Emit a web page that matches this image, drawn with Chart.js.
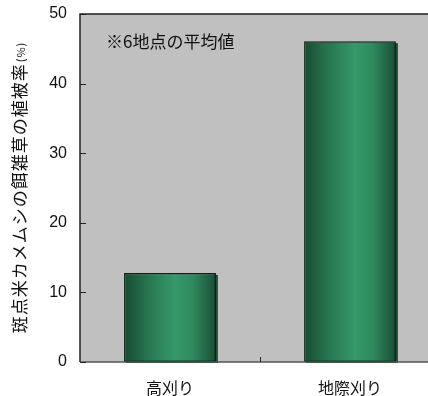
<!DOCTYPE html>
<html lang="ja">
<head>
<meta charset="utf-8">
<script src="https://cdn.jsdelivr.net/npm/chart.js@4/dist/chart.umd.min.js"></script>
<style>
  html, body { margin: 0; padding: 0; background: #ffffff; overflow: hidden; }
  #wrap { width: 428px; height: 396px; overflow: hidden; }
  canvas { display: block; }
</style>
</head>
<body>
<div id="wrap"><canvas id="c" width="440" height="396"></canvas></div>
<script>
// Mowing method vs. ground cover of weeds eaten by rice stink bugs
const categories = ['高刈り', '地際刈り'];
const coverRate = [12.8, 46.1];
const yTicks = [0, 10, 20, 30, 40, 50];
const yTitleMain = '斑点米カメムシの餌雑草の植被率';
const yTitleUnit = '(%)';
const note = '※6地点の平均値';

const JP = '"Noto Sans CJK JP", "Noto Sans", sans-serif';
const NUM = '"Liberation Sans", Arial, sans-serif';

const frame = {
  id: 'frame',
  beforeDraw(chart) {
    const { ctx, chartArea: a } = chart;
    ctx.save();
    ctx.fillStyle = '#c0c0c0';
    ctx.fillRect(a.left, a.top, a.right - a.left, a.bottom - a.top);
    ctx.restore();
  },
  beforeDatasetsDraw(chart) {
    const { ctx } = chart;
    const meta = chart.getDatasetMeta(0);
    meta.data.forEach(bar => {
      const l = bar.x - bar.width / 2, r = bar.x + bar.width / 2;
      // drop shadow on the right side
      ctx.save();
      ctx.fillStyle = '#1b4f36';
      ctx.fillRect(l + 2, bar.y + 2, r - l, bar.base - bar.y - 1);
      ctx.restore();
      // cylinder-like shading, one gradient per bar
      const g = ctx.createLinearGradient(l, 0, r, 0);
      g.addColorStop(0, '#184a31');
      g.addColorStop(0.22, '#25704b');
      g.addColorStop(0.55, '#35996a');
      g.addColorStop(0.75, '#2f8a5e');
      g.addColorStop(1, '#1a4d35');
      bar.options = Object.assign({}, bar.options, { backgroundColor: g });
    });
  },
  afterDatasetsDraw(chart) {
    const { ctx, chartArea: a, scales } = chart;
    const y = scales.y, x = scales.x;
    ctx.save();
    ctx.strokeStyle = '#222';
    ctx.lineWidth = 1.5;
    ctx.beginPath();
    ctx.moveTo(a.left, a.bottom);
    ctx.lineTo(a.left, a.top);
    ctx.lineTo(a.right, a.top);
    ctx.stroke();
    ctx.strokeStyle = '#555';
    ctx.beginPath();
    ctx.moveTo(a.left, a.bottom);
    ctx.lineTo(a.right, a.bottom);
    ctx.stroke();
    // inward tick marks
    ctx.strokeStyle = '#222';
    ctx.lineWidth = 1;
    yTicks.forEach(v => {
      const py = Math.round(y.getPixelForValue(v)) + 0.5;
      ctx.beginPath();
      ctx.moveTo(a.left, py);
      ctx.lineTo(a.left + 6, py);
      ctx.stroke();
    });
    for (let i = 0; i < categories.length - 1; i++) {
      const px = Math.round((x.getPixelForValue(i) + x.getPixelForValue(i + 1)) / 2) + 0.5;
      ctx.beginPath();
      ctx.moveTo(px, a.bottom);
      ctx.lineTo(px, a.bottom - 5);
      ctx.stroke();
    }
    // note
    ctx.fillStyle = '#111';
    ctx.font = '17px ' + JP;
    ctx.textBaseline = 'middle';
    ctx.textAlign = 'left';
    ctx.fillText(note, a.left + 26, 42);
    // rotated y-axis title
    const cy = (a.top + a.bottom) / 2;
    ctx.translate(20, cy);
    ctx.rotate(-Math.PI / 2);
    ctx.letterSpacing = '1px';
    ctx.font = '17px ' + JP;
    const w1 = ctx.measureText(yTitleMain).width;
    ctx.font = '11px ' + JP;
    const w2 = ctx.measureText(yTitleUnit).width;
    const sx = -(w1 + w2) / 2;
    ctx.font = '17px ' + JP;
    ctx.fillText(yTitleMain, sx, 0);
    ctx.font = '11px ' + JP;
    ctx.fillText(yTitleUnit, sx + w1 + 1, 1);
    ctx.restore();
  }
};

new Chart(document.getElementById('c'), {
  type: 'bar',
  data: {
    labels: categories,
    datasets: [{
      data: coverRate,
      backgroundColor: '#2f8a5e',
      borderColor: '#0b1f14',
      borderWidth: 1.5,
      borderSkipped: false,
      categoryPercentage: 1,
      barPercentage: 0.51
    }]
  },
  options: {
    responsive: false,
    animation: false,
    devicePixelRatio: 1,
    layout: { padding: { top: 14, right: 0, left: 0, bottom: 0 } },
    plugins: { legend: { display: false }, tooltip: { enabled: false } },
    scales: {
      x: {
        grid: { display: false, drawTicks: false },
        border: { display: false },
        ticks: { color: '#111', font: { family: JP, size: 16 }, padding: 16 },
        afterFit(s) { s.height = 34; s.paddingLeft = 0; s.paddingRight = 0; }
      },
      y: {
        min: 0, max: 50,
        afterBuildTicks(s) { s.ticks = yTicks.map(v => ({ value: v })); },
        grid: { display: false, drawTicks: false },
        border: { display: false },
        ticks: { color: '#111', font: { family: NUM, size: 16 }, padding: 13 },
        afterFit(s) { s.width = 80; s.paddingTop = 0; s.paddingBottom = 0; }
      }
    }
  },
  plugins: [frame]
});
</script>
</body>
</html>
